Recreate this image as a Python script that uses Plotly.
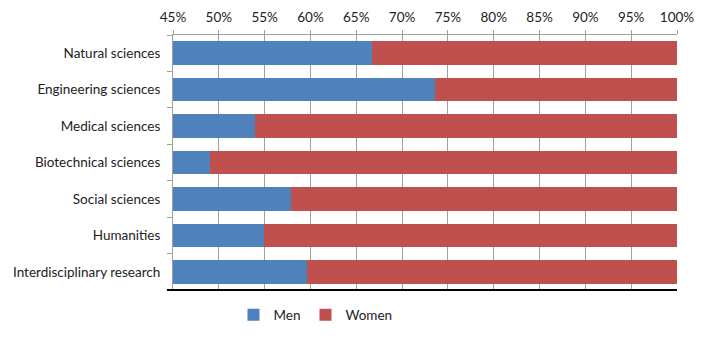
import plotly.graph_objects as go

categories = ["Natural sciences", "Engineering sciences", "Medical sciences",
              "Biotechnical sciences", "Social sciences", "Humanities",
              "Interdisciplinary research"]
men = [66.7, 73.6, 53.9, 49.0, 57.9, 54.9, 59.6]
women = [round(100 - m, 1) for m in men]
tick_vals = [45, 50, 55, 60, 65, 70, 75, 80, 85, 90, 95, 100]
tick_text = [f"{v}%" for v in tick_vals]

font = "Lato, Open Sans, Liberation Sans, sans-serif"

fig = go.Figure()
fig.add_trace(go.Bar(y=categories, x=men, name="Men", orientation="h",
                     marker=dict(color="#4F81BD", line=dict(width=0))))
fig.add_trace(go.Bar(y=categories, x=women, name="Women", orientation="h",
                     marker=dict(color="#C0504D", line=dict(width=0))))

fig.update_layout(
    barmode="stack",
    bargap=0.35,
    width=708, height=339,
    margin=dict(l=173, r=31, t=35, b=49, autoexpand=False),
    paper_bgcolor="white", plot_bgcolor="white",
    font=dict(family=font, size=13.5, color="#222"),
    legend=dict(orientation="h", x=0.12, xanchor="left",
                yref="container", y=0.071, yanchor="middle",
                font=dict(size=13.5), itemwidth=30, traceorder="normal"),
    xaxis=dict(side="top", range=[45, 100], tickvals=tick_vals, ticktext=tick_text,
               showgrid=True, gridcolor="#A0A0A0", gridwidth=1,
               showline=True, linecolor="#A0A0A0", linewidth=1,
               ticks="outside", ticklen=4, tickcolor="#A0A0A0",
               zeroline=False, tickfont=dict(size=13.5, color="#222"),
               ticklabelstandoff=3),
    yaxis=dict(autorange="reversed", showline=True, linecolor="#A0A0A0", linewidth=1,
               ticks="outside", ticklen=5, tickcolor="#A0A0A0", tickson="boundaries",
               showgrid=False, tickfont=dict(size=13.5, color="#222"),
               ticklabelstandoff=9),
    shapes=[dict(type="line", xref="paper", yref="paper", x0=-0.012, x1=1.0,
                 y0=0, y1=0, line=dict(color="black", width=2))],
)

fig.write_html("out.html")
